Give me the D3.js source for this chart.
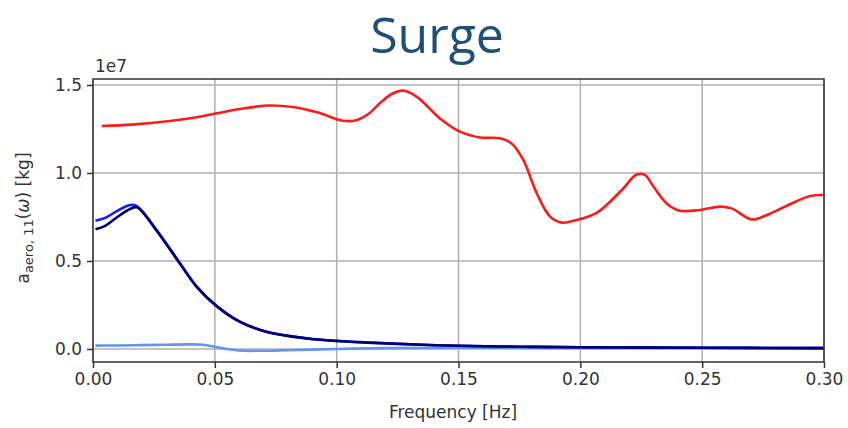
<!DOCTYPE html>
<html>
<head>
<meta charset="utf-8">
<script src="https://cdn.jsdelivr.net/npm/d3@7"></script>
<style>
  body { margin: 0; background: #fff; }
  .grid line { stroke: #b0b0b0; stroke-width: 1.5; }
  .axis text { font-family: "DejaVu Sans", sans-serif; font-size: 17px; fill: #333; }
  .axis path, .axis line { stroke: #333; stroke-width: 1.5; }
</style>
</head>
<body>
<script>
// values, amplitude in units of 1e7 kg
var redFreq = [0.0036, 0.016, 0.0316, 0.042, 0.0508, 0.061, 0.0713, 0.082, 0.092, 0.1026, 0.108, 0.113, 0.118, 0.1228, 0.1274, 0.1328, 0.1424, 0.1506, 0.1588, 0.167, 0.1718, 0.1766, 0.1821, 0.1876, 0.1924, 0.1985, 0.2067, 0.2122, 0.2176, 0.2231, 0.2265, 0.23, 0.2354, 0.2409, 0.2491, 0.2573, 0.2621, 0.2703, 0.2765, 0.2847, 0.2943, 0.2997];
var redVal = [1.267, 1.275, 1.295, 1.315, 1.339, 1.365, 1.383, 1.375, 1.345, 1.297, 1.300, 1.335, 1.400, 1.450, 1.468, 1.434, 1.310, 1.235, 1.202, 1.197, 1.168, 1.074, 0.885, 0.752, 0.718, 0.733, 0.774, 0.837, 0.912, 0.991, 0.989, 0.923, 0.827, 0.786, 0.790, 0.809, 0.799, 0.736, 0.761, 0.814, 0.869, 0.875];

var blueFreq = [0.001, 0.005, 0.010, 0.0152, 0.018, 0.0261, 0.0357, 0.0426, 0.0508, 0.0603, 0.0713, 0.0877, 0.1014, 0.1178, 0.135, 0.15, 0.175, 0.2, 0.25, 0.3];
var blueVal = [0.729, 0.745, 0.785, 0.818, 0.812, 0.676, 0.487, 0.354, 0.244, 0.155, 0.098, 0.061, 0.045, 0.034, 0.024, 0.018, 0.013, 0.010, 0.007, 0.005];
var navyVal = [0.680, 0.700, 0.750, 0.795, 0.805, 0.672, 0.484, 0.352, 0.242, 0.154, 0.097, 0.060, 0.044, 0.033, 0.024, 0.018, 0.013, 0.010, 0.007, 0.005];

var lightFreq = [0.001, 0.01, 0.02, 0.03, 0.04, 0.045, 0.05, 0.055, 0.06, 0.07, 0.08, 0.10, 0.12, 0.15, 0.2, 0.25, 0.3];
var lightVal = [0.019, 0.020, 0.022, 0.024, 0.026, 0.024, 0.013, 0.0, -0.009, -0.010, -0.007, 0.0, 0.005, 0.007, 0.006, 0.005, 0.005];

var xTicks = [0, 0.05, 0.10, 0.15, 0.20, 0.25, 0.30];
var yTicks = [0, 0.5, 1.0, 1.5];

//room for axes
var margin = {top: 79, right: 24, bottom: 66, left: 93},
    width = 848 - margin.left - margin.right,
    height = 428 - margin.top - margin.bottom;

var svg = d3.select("body").append("svg")
    .attr("width", 848)
    .attr("height", 428);

svg.append("text")
    .attr("x", 437)
    .attr("y", 53)
    .attr("text-anchor", "middle")
    .style("font-family", "'Open Sans', sans-serif")
    .style("font-size", "50px")
    .style("fill", "#1f4e79")
    .text("Surge");

var g = svg.append("g")
    .attr("transform", "translate(" + margin.left + "," + margin.top + ")");

var x = d3.scaleLinear().domain([0, 0.30]).range([0, width]);
var y = d3.scaleLinear().domain([-0.074, 1.534]).range([height, 0]);

// grid
var grid = g.append("g").attr("class", "grid");
grid.selectAll(".gx").data(xTicks).enter().append("line")
    .attr("x1", function(d){ return x(d); }).attr("x2", function(d){ return x(d); })
    .attr("y1", 0).attr("y2", height);
grid.selectAll(".gy").data(yTicks).enter().append("line")
    .attr("x1", 0).attr("x2", width)
    .attr("y1", function(d){ return y(d); }).attr("y2", function(d){ return y(d); });

var line = d3.line()
    .x(function(d){ return x(d[0]); })
    .y(function(d){ return y(d[1]); })
    .curve(d3.curveCatmullRom);

function series(fr, vals, color) {
    g.append("path")
        .datum(fr.map(function(f, i){ return [f, vals[i]]; }))
        .attr("fill", "none")
        .attr("stroke", color)
        .attr("stroke-width", 2.6)
        .attr("d", line);
}
series(redFreq, redVal, "#ff1a1a");
series(lightFreq, lightVal, "#6495ed");
series(blueFreq, blueVal, "#1a1aff");
series(blueFreq, navyVal, "#00006e");

// frame
g.append("rect")
    .attr("width", width).attr("height", height)
    .attr("fill", "none").attr("stroke", "#333").attr("stroke-width", 1.5);

var xAxis = d3.axisBottom(x).tickValues(xTicks).tickFormat(d3.format(".2f")).tickSize(6).tickPadding(5);
var yAxis = d3.axisLeft(y).tickValues(yTicks).tickFormat(d3.format(".1f")).tickSize(6).tickPadding(5);

g.append("g").attr("class", "x axis")
    .attr("transform", "translate(0," + height + ")")
    .call(xAxis)
    .call(function(s){ s.select(".domain").remove(); });
g.append("g").attr("class", "y axis")
    .call(yAxis)
    .call(function(s){ s.select(".domain").remove(); });

// offset text
g.append("text")
    .attr("x", 2).attr("y", -7)
    .style("font-family", "'DejaVu Sans', sans-serif")
    .style("font-size", "17px").style("fill", "#333")
    .text("1e7");

svg.append("text")
    .attr("x", 453).attr("y", 418)
    .attr("text-anchor", "middle")
    .style("font-family", "'DejaVu Sans', sans-serif")
    .style("font-size", "17px").style("fill", "#333")
    .text("Frequency [Hz]");

var yl = svg.append("text")
    .attr("transform", "translate(29,218) rotate(-90)")
    .attr("text-anchor", "middle")
    .style("font-family", "'DejaVu Sans', sans-serif")
    .style("font-size", "17px").style("fill", "#333");
yl.append("tspan").text("a");
yl.append("tspan").attr("dy", 4).style("font-size", "13px").text("aero, 11");
yl.append("tspan").attr("dy", -4).text("(");
yl.append("tspan").style("font-style", "italic").text("ω");
yl.append("tspan").text(") [kg]");
</script>
</body>
</html>
